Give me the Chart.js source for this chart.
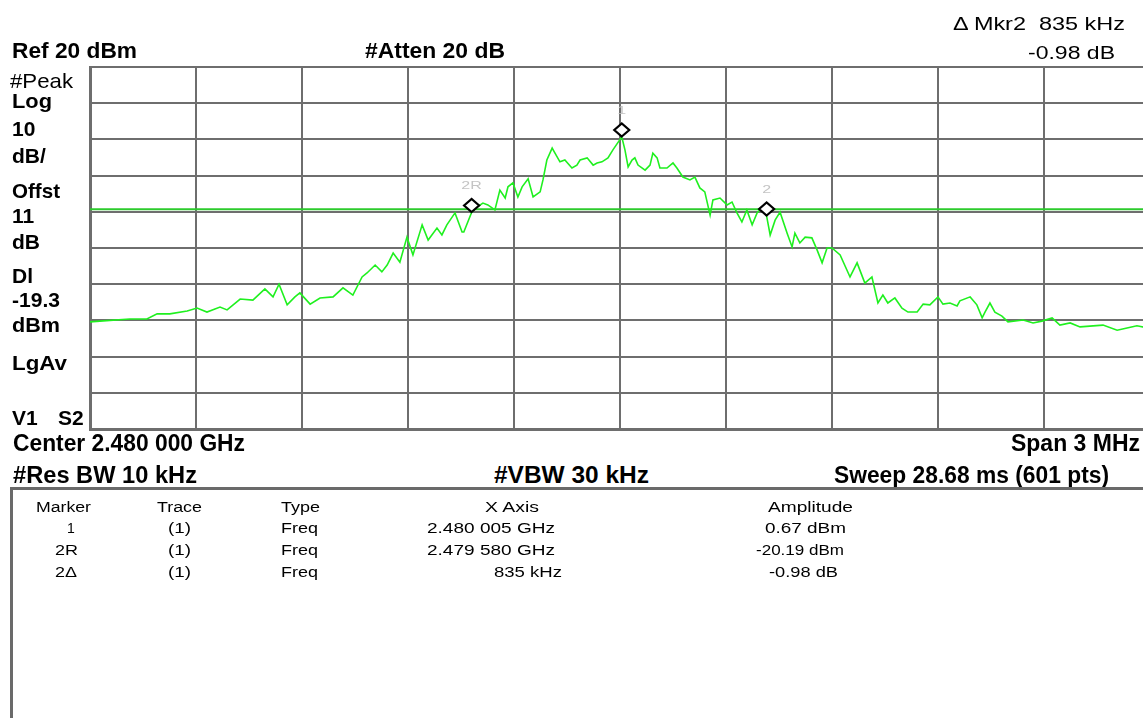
<!DOCTYPE html>
<html>
<head>
<meta charset="utf-8">
<script src="https://cdn.jsdelivr.net/npm/chart.js@4.4.1/dist/chart.umd.min.js"></script>
<style>
  html, body { margin: 0; padding: 0; background: #fff; overflow: hidden; width: 1143px; height: 718px; position: relative; }
  #contenedor { position: absolute; left: 0; top: 0; width: 1160px; height: 440px; }
  .t { position: absolute; white-space: pre; font-family: "Liberation Sans", Arial, sans-serif; color: #000; line-height: 1; transform-origin: 0 0; }
  .b { font-weight: bold; }
  .s18 { font-size: 18px; }
  .s21 { font-size: 21px; }
  .s22 { font-size: 22px; }
  .s23 { font-size: 23px; }
  .s14 { font-size: 14px; }
  #caja { position: absolute; left: 10px; top: 487px; width: 1200px; height: 300px; border-left: 3px solid #6a6a6a; border-top: 3px solid #6a6a6a; }
</style>
</head>
<body>
<div id="contenedor"><canvas id="grafico"></canvas></div>

<!-- cabecera -->
<div class="t s18" style="left:953px; top:15px" data-w="172">Δ Mkr2  835 kHz</div>
<div class="t s18" style="left:1028px; top:44px" data-w="87">-0.98 dB</div>
<div class="t b s22" style="left:12px; top:40px" data-w="125">Ref 20 dBm</div>
<div class="t b s22" style="left:365px; top:40px" data-w="140">#Atten 20 dB</div>

<!-- columna izquierda -->
<div class="t s21" style="left:10px; top:70px" data-w="63">#Peak</div>
<div class="t b s21" style="left:12px; top:90px" data-w="40">Log</div>
<div class="t b s21" style="left:12px; top:118px">10</div>
<div class="t b s21" style="left:12px; top:145px">dB/</div>
<div class="t b s21" style="left:12px; top:180px" data-w="48">Offst</div>
<div class="t b s21" style="left:12px; top:205px">11</div>
<div class="t b s21" style="left:12px; top:231px">dB</div>
<div class="t b s21" style="left:12px; top:265px">Dl</div>
<div class="t b s21" style="left:12px; top:289px" data-w="48">-19.3</div>
<div class="t b s21" style="left:12px; top:314px" data-w="48">dBm</div>
<div class="t b s21" style="left:12px; top:352px" data-w="55">LgAv</div>
<div class="t b s21" style="left:12px; top:407px">V1</div>
<div class="t b s21" style="left:58px; top:407px">S2</div>

<!-- pie del grafico -->
<div class="t b s23" style="left:13px; top:432px" data-w="232">Center 2.480 000 GHz</div>
<div class="t b s23" style="left:1011px; top:432px" data-w="129">Span 3 MHz</div>
<div class="t b s23" style="left:13px; top:464px" data-w="184">#Res BW 10 kHz</div>
<div class="t b s23" style="left:494px; top:464px" data-w="155">#VBW 30 kHz</div>
<div class="t b s23" style="left:834px; top:464px" data-w="275">Sweep 28.68 ms (601 pts)</div>

<!-- tabla de marcadores -->
<div id="caja"></div>
<div class="t s14" style="left:36px; top:500px" data-w="55">Marker</div>
<div class="t s14" style="left:157px; top:500px" data-w="45">Trace</div>
<div class="t s14" style="left:281px; top:500px" data-w="39">Type</div>
<div class="t s14" style="left:485px; top:500px" data-w="54">X Axis</div>
<div class="t s14" style="left:768px; top:500px" data-w="85">Amplitude</div>

<div class="t s14" style="left:67px; top:521px">1</div>
<div class="t s14" style="left:168px; top:521px" data-w="23">(1)</div>
<div class="t s14" style="left:281px; top:521px" data-w="37">Freq</div>
<div class="t s14" style="left:427px; top:521px" data-w="128">2.480 005 GHz</div>
<div class="t s14" style="left:765px; top:521px" data-w="81">0.67 dBm</div>

<div class="t s14" style="left:55px; top:543px" data-w="23">2R</div>
<div class="t s14" style="left:168px; top:543px" data-w="23">(1)</div>
<div class="t s14" style="left:281px; top:543px" data-w="37">Freq</div>
<div class="t s14" style="left:427px; top:543px" data-w="128">2.479 580 GHz</div>
<div class="t s14" style="left:756px; top:543px" data-w="88">-20.19 dBm</div>

<div class="t s14" style="left:55px; top:565px" data-w="22">2Δ</div>
<div class="t s14" style="left:168px; top:565px" data-w="23">(1)</div>
<div class="t s14" style="left:281px; top:565px" data-w="37">Freq</div>
<div class="t s14" style="left:494px; top:565px" data-w="68">835 kHz</div>
<div class="t s14" style="left:769px; top:565px" data-w="69">-0.98 dB</div>

<script>
// Ajustes del analizador
const spanKHz = 3000;
const refLevel = 20;
const dbPorDiv = 10;
const lineaDisplay = -19.3;

// Traza (desplazamiento en kHz respecto a 2.480 GHz, nivel en dBm)
const frecuenciaKHz = [
  -1500, -1472, -1387, -1339, -1310, -1274, -1225, -1197, -1169, -1132, -1112, -1075,
  -1039, -1005, -982, -965, -942, -920, -906, -877, -849, -812, -784, -756,
  -730, -716, -693, -674, -659, -642, -623, -603, -586, -560, -543, -518,
  -504, -490, -467, -447, -442, -420, -405, -388, -374, -354, -340, -325,
  -317, -303, -289, -277, -260, -246, -226, -218, -207, -192, -184, -170,
  -156, -136, -122, -113, -93, -76, -65, -51, -34, -20, 5, 14,
  23, 34, 42, 51, 71, 85, 93, 105, 113, 133, 150, 161,
  178, 198, 212, 226, 240, 255, 263, 283, 303, 317, 331, 345,
  359, 374, 388, 402, 415, 425, 439, 453, 473, 487, 495, 509,
  524, 543, 558, 572, 586, 600, 623, 651, 671, 693, 713, 730,
  744, 758, 778, 798, 815, 841, 858, 877, 900, 914, 934, 954,
  962, 991, 1010, 1025, 1033, 1047, 1061, 1081, 1098, 1141, 1169, 1194,
  1223, 1245, 1274, 1302, 1339, 1367, 1407, 1435, 1463, 1500
];
const nivelDBm = [
  -50.4, -50.2, -49.6, -49.6, -48.2, -48.2, -47.4, -46.6, -47.7, -46.3, -47.1, -44.1,
  -44.4, -41.3, -43.5, -40.0, -45.7, -43.5, -42.4, -45.5, -43.8, -43.5, -41.0, -43.0,
  -38.0, -36.9, -34.7, -36.6, -34.7, -31.4, -33.9, -27.0, -31.9, -23.6, -27.8, -24.5,
  -26.4, -23.6, -20.3, -25.6, -25.6, -20.2, -18.7, -17.6, -18.1, -19.5, -14.0, -16.2,
  -13.1, -12.0, -15.9, -13.1, -10.9, -15.9, -14.5, -11.2, -5.7, -2.4, -3.8, -6.2,
  -5.7, -7.9, -7.1, -5.7, -5.1, -7.1, -6.5, -6.2, -5.1, -2.9, 0.7, -2.9,
  -7.6, -5.7, -5.1, -7.1, -8.5, -7.1, -3.8, -5.1, -7.9, -7.9, -6.5, -7.9,
  -10.4, -11.2, -10.4, -13.4, -14.5, -20.9, -16.7, -16.2, -18.1, -17.3, -20.3, -22.8,
  -19.5, -23.6, -20.3, -18.7, -21.2, -26.4, -22.3, -20.1, -25.9, -29.7, -25.9, -28.6,
  -27.0, -27.2, -30.6, -34.1, -30.0, -30.0, -31.9, -38.0, -34.1, -39.7, -38.0, -45.2,
  -43.0, -45.2, -43.8, -46.6, -47.7, -47.7, -45.5, -45.7, -43.5, -45.5, -45.2, -46.0,
  -44.6, -43.5, -45.7, -49.3, -47.7, -45.2, -47.7, -48.8, -50.4, -49.9, -50.7, -50.2,
  -49.3, -51.3, -50.7, -51.8, -51.5, -51.3, -52.7, -52.1, -51.5, -52.2
];

// Marcadores
const nombresMarcador = ['1', '2R', '2'];
const marcadorKHz = [5, -420, 415];
const marcadorDBm = [0.67, -20.19, -21.17];

// Dibuja los rombos de los marcadores encima de la traza
const pluginMarcadores = {
  id: 'marcadores',
  afterDatasetsDraw(chart) {
    const ctx = chart.ctx;
    const x = chart.scales.x, y = chart.scales.y;
    ctx.save();
    nombresMarcador.forEach((nombre, i) => {
      const px = x.getPixelForValue(marcadorKHz[i]);
      const py = y.getPixelForValue(marcadorDBm[i]);
      ctx.beginPath();
      ctx.moveTo(px, py - 0.5);
      ctx.lineTo(px + 7.5, py - 7);
      ctx.lineTo(px, py - 13.5);
      ctx.lineTo(px - 7.5, py - 7);
      ctx.closePath();
      ctx.fillStyle = '#fff';
      ctx.fill();
      ctx.lineWidth = 2.2;
      ctx.strokeStyle = '#000';
      ctx.stroke();
      // etiqueta gris
      ctx.save();
      ctx.translate(px, py - 26);
      ctx.scale(1.6, 1);
      ctx.font = '10px "Liberation Sans", Arial, sans-serif';
      ctx.fillStyle = '#c4c4c4';
      ctx.textAlign = 'center';
      ctx.textBaseline = 'middle';
      ctx.fillText(nombre, 0, 0);
      ctx.restore();
    });
    ctx.restore();
  }
};

let grafico = document.getElementById('grafico').getContext('2d');

let puntosTraza = frecuenciaKHz.map((f, i) => ({ x: f, y: nivelDBm[i] }));
let puntosDisplay = [{ x: -spanKHz / 2, y: lineaDisplay }, { x: spanKHz / 2, y: lineaDisplay }];

const colorRejilla = '#6e6e6e';

let espectro = new Chart(grafico, {
  type: 'scatter',
  data: {
    datasets: [{
      label: 'Traza 1',
      data: puntosTraza,
      showLine: true,
      borderColor: '#1ff01f',
      borderWidth: 1.6,
      pointRadius: 0,
      tension: 0
    }, {
      label: 'Display line',
      data: puntosDisplay,
      showLine: true,
      borderColor: '#2ccb2c',
      borderWidth: 2,
      pointRadius: 0
    }]
  },
  options: {
    responsive: true,
    maintainAspectRatio: false,
    animation: false,
    events: [],
    layout: { padding: { left: 90, top: 67, right: 10, bottom: 11 } },
    plugins: {
      legend: { display: false },
      tooltip: { enabled: false }
    },
    scales: {
      x: {
        type: 'linear',
        min: -spanKHz / 2,
        max: spanKHz / 2,
        ticks: { display: false, stepSize: spanKHz / 10 },
        grid: { color: colorRejilla, lineWidth: 2, drawTicks: false },
        border: { color: colorRejilla, width: 3 },
        afterFit: s => { s.height = 0; }
      },
      y: {
        type: 'linear',
        min: refLevel - 10 * dbPorDiv,
        max: refLevel,
        ticks: { display: false, stepSize: dbPorDiv },
        grid: { color: colorRejilla, lineWidth: 2, drawTicks: false },
        border: { color: colorRejilla, width: 3 },
        afterFit: s => { s.width = 0; }
      }
    }
  },
  plugins: [pluginMarcadores]
});

// Ajusta el ancho de los textos al de la captura
document.querySelectorAll('.t[data-w]').forEach(el => {
  const ancho = el.getBoundingClientRect().width;
  if (ancho > 0) el.style.transform = 'scaleX(' + (el.dataset.w / ancho) + ')';
});
</script>
</body>
</html>
